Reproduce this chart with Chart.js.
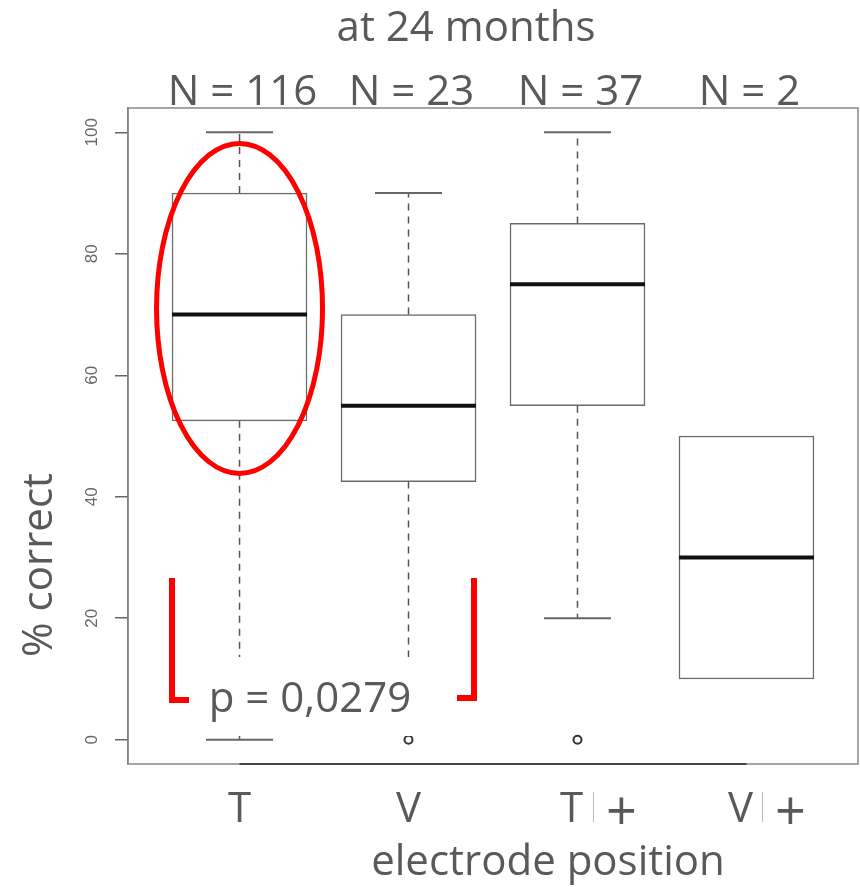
<!DOCTYPE html>
<html><head><meta charset="utf-8">
<style>html,body{margin:0;padding:0;background:#fff}#wrap{width:860px;height:887px;position:relative}</style>
<script src="https://cdn.jsdelivr.net/npm/chart.js@4/dist/chart.umd.min.js"></script>
</head><body><div id="wrap"><canvas id="c" width="860" height="887"></canvas></div>
<script>
const categories = ["T", "V", "T +", "V +"];
const nLabels = ["N = 116", "N = 23", "N = 37", "N = 2"];
const q1 = [52.5, 42.5, 55, 10];
const median = [70, 55, 75, 30];
const q3 = [90, 70, 85, 50];
const whiskerLow = [0, 10, 20, null];
const whiskerHigh = [100, 90, 100, null];
const outliers = [[], [0], [0], []];
const yTicks = [0, 20, 40, 60, 80, 100];
const titleText = "at 24 months";
const xTitle = "electrode position";
const yTitle = "% correct";
const pText = "p = 0,0279";

const TXT = '#595959';
const FONT = '42px "Open Sans"';

const boxPlugin = {
  id: 'boxExtras',
  afterDatasetsDraw(chart) {
    const ctx = chart.ctx, xs = chart.scales.x, ys = chart.scales.y, ca = chart.chartArea;
    const half = 67.5, capHalf = 33.5;
    ctx.save();
    categories.forEach((c, i) => {
      const cx = xs.getPixelForValue(i + 1);
      ctx.strokeStyle = '#555';
      if (whiskerHigh[i] !== null) {
        ctx.setLineDash([7, 6]); ctx.lineWidth = 1.5;
        ctx.beginPath(); ctx.moveTo(cx, ys.getPixelForValue(q3[i])); ctx.lineTo(cx, ys.getPixelForValue(whiskerHigh[i])); ctx.stroke();
        ctx.setLineDash([]); ctx.lineWidth = 2; ctx.strokeStyle = '#666';
        ctx.beginPath(); ctx.moveTo(cx - capHalf, ys.getPixelForValue(whiskerHigh[i])); ctx.lineTo(cx + capHalf, ys.getPixelForValue(whiskerHigh[i])); ctx.stroke();
      }
      if (whiskerLow[i] !== null) {
        ctx.strokeStyle = '#555';
        ctx.setLineDash([7, 6]); ctx.lineWidth = 1.5;
        ctx.beginPath(); ctx.moveTo(cx, ys.getPixelForValue(q1[i])); ctx.lineTo(cx, ys.getPixelForValue(whiskerLow[i])); ctx.stroke();
        ctx.setLineDash([]); ctx.lineWidth = 2; ctx.strokeStyle = '#666';
        ctx.beginPath(); ctx.moveTo(cx - capHalf, ys.getPixelForValue(whiskerLow[i])); ctx.lineTo(cx + capHalf, ys.getPixelForValue(whiskerLow[i])); ctx.stroke();
      }
      ctx.setLineDash([]); ctx.strokeStyle = '#111'; ctx.lineWidth = 4;
      ctx.beginPath(); ctx.moveTo(cx - half, ys.getPixelForValue(median[i])); ctx.lineTo(cx + half, ys.getPixelForValue(median[i])); ctx.stroke();
      ctx.lineWidth = 2; ctx.strokeStyle = '#333';
      outliers[i].forEach(v => {
        ctx.beginPath(); ctx.arc(cx, ys.getPixelForValue(v), 4, 0, Math.PI * 2); ctx.stroke();
      });
    });
    // frame
    ctx.strokeStyle = '#888'; ctx.lineWidth = 1.5;
    ctx.strokeRect(ca.left, ca.top, ca.right - ca.left, ca.bottom - ca.top);
    ctx.strokeStyle = '#444'; ctx.lineWidth = 2;
    ctx.beginPath(); ctx.moveTo(xs.getPixelForValue(1), ca.bottom); ctx.lineTo(xs.getPixelForValue(4), ca.bottom); ctx.stroke();
    // y tick labels
    ctx.fillStyle = '#666'; ctx.font = '17px "Liberation Sans"';
    ctx.textAlign = 'center'; ctx.textBaseline = 'middle';
    yTicks.forEach(v => {
      ctx.save(); ctx.translate(92, ys.getPixelForValue(v)); ctx.rotate(-Math.PI / 2);
      ctx.fillText(String(v), 0, 0); ctx.restore();
    });
    // white patch behind p value
    ctx.fillStyle = '#fff';
    ctx.fillRect(196, 657, 250, 79);
    // texts
    ctx.fillStyle = TXT; ctx.font = FONT; ctx.textBaseline = 'alphabetic'; ctx.textAlign = 'center';
    ctx.fillText(titleText, 466, 41);
    nLabels.forEach((t, i) => ctx.fillText(t, xs.getPixelForValue(i + 1) + 3, 105));
    categories.forEach((t, i) => {
      const cx = xs.getPixelForValue(i + 1);
      const parts = t.split(' ');
      if (parts.length === 1) {
        ctx.fillText(parts[0], cx, 822);
      } else {
        ctx.fillText(parts[0], cx - 6, 822);
        ctx.save(); ctx.font = '54px "Open Sans"';
        ctx.fillText(parts[1], cx + 44, 830); ctx.restore();
        ctx.save(); ctx.strokeStyle = '#bbb'; ctx.lineWidth = 1;
        ctx.beginPath(); ctx.moveTo(cx + 16, 792); ctx.lineTo(cx + 16, 822); ctx.stroke(); ctx.restore();
      }
    });
    ctx.fillText(xTitle, 548, 875);
    ctx.fillText(pText, 310, 712);
    ctx.save(); ctx.translate(52, 565); ctx.rotate(-Math.PI / 2);
    ctx.fillText(yTitle, 0, 0); ctx.restore();
    // red annotations
    ctx.strokeStyle = '#ff0000'; ctx.lineWidth = 5;
    const ex = xs.getPixelForValue(1), ey = ys.getPixelForValue(71);
    ctx.beginPath(); ctx.ellipse(ex, ey, 83, 165, 0, 0, Math.PI * 2); ctx.stroke();
    ctx.lineWidth = 6; ctx.lineCap = 'butt'; ctx.lineJoin = 'miter';
    ctx.beginPath(); ctx.moveTo(172, 578); ctx.lineTo(172, 700); ctx.lineTo(189, 700); ctx.stroke();
    ctx.beginPath(); ctx.moveTo(474, 578); ctx.lineTo(474, 698); ctx.lineTo(457, 698); ctx.stroke();
    ctx.restore();
  }
};

new Chart(document.getElementById('c'), {
  type: 'bar',
  data: {
    datasets: [{
      data: categories.map((c, i) => ({ x: i + 1, y: [q1[i], q3[i]] })),
      backgroundColor: '#ffffff',
      borderColor: '#6a6a6a',
      borderWidth: 1.5,
      borderSkipped: false,
      barThickness: 135
    }]
  },
  options: {
    responsive: false,
    animation: false,
    events: [],
    layout: { padding: { top: 108, right: 2, bottom: 123, left: 0 } },
    plugins: { legend: { display: false }, tooltip: { enabled: false }, title: { display: false } },
    scales: {
      x: { type: 'linear', min: 0.34, max: 4.66, offset: false, display: false },
      y: {
        min: -4, max: 104,
        afterFit(s) { s.width = 128; },
        afterBuildTicks(s) { s.ticks = yTicks.map(v => ({ value: v })); },
        ticks: { display: false },
        grid: { drawOnChartArea: false, drawTicks: true, tickLength: 13, color: '#666', lineWidth: 1.5 },
        border: { display: true, color: '#777', width: 1.5 }
      }
    }
  },
  plugins: [boxPlugin]
});
</script>
</body></html>
